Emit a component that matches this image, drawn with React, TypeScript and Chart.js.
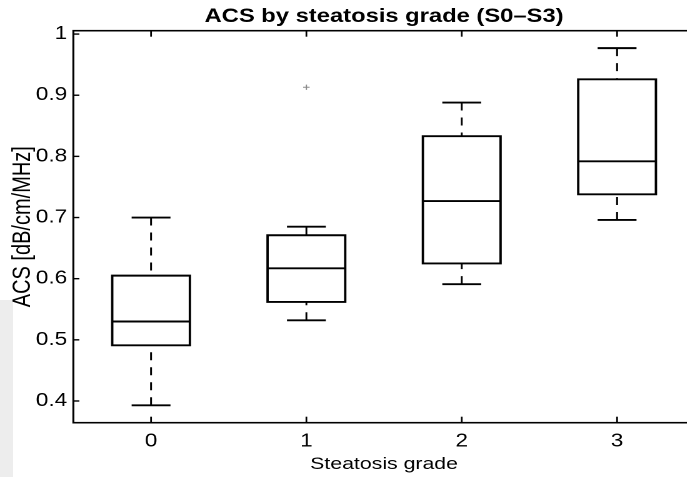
import { useEffect, useRef } from "react";
import { Chart, registerables } from "chart.js";

Chart.register(...registerables);

// ---- data ----
const grades = ["0", "1", "2", "3"];
const whiskerLow = [0.393, 0.532, 0.591, 0.696];
const quartile1 = [0.491, 0.562, 0.625, 0.738];
const medians = [0.53, 0.617, 0.727, 0.792];
const quartile3 = [0.605, 0.671, 0.833, 0.926];
const whiskerHigh = [0.7, 0.685, 0.888, 0.977];
const outliers = [null, 0.913, null, null];
const yTicks = [0.4, 0.5, 0.6, 0.7, 0.8, 0.9, 1.0];
const yMin = 0.3645;
const yMax = 1.0055;

const titleText = "ACS by steatosis grade (S0–S3)";
const xTitle = "Steatosis grade";
const yTitle = "ACS [dB/cm/MHz]";

// ---- layout ----
const S = 1.25; // horizontal stretch of the reference image
const W = 570;
const H = 477;
const FAMILY = "'Liberation Sans', Arial, Helvetica, sans-serif";

const boxPlugin = {
  id: "boxExtras",
  afterDatasetsDraw(chart: any) {
    const { ctx } = chart;
    const y = chart.scales.y;
    const meta = chart.getDatasetMeta(0);
    ctx.save();
    ctx.strokeStyle = "#000";
    ctx.lineCap = "butt";
    const line = (x1: number, y1: number, x2: number, y2: number) => {
      ctx.beginPath();
      ctx.moveTo(x1, y1);
      ctx.lineTo(x2, y2);
      ctx.stroke();
    };
    meta.data.forEach((bar: any, i: number) => {
      const cx = bar.x;
      const half = bar.width / 2;
      const capHalf = bar.width / 4;
      const yq1 = y.getPixelForValue(quartile1[i]);
      const yq3 = y.getPixelForValue(quartile3[i]);
      const ymed = y.getPixelForValue(medians[i]);
      const ylo = y.getPixelForValue(whiskerLow[i]);
      const yhi = y.getPixelForValue(whiskerHigh[i]);
      // whiskers (dashed)
      ctx.lineWidth = 1.5;
      ctx.setLineDash([8, 7]);
      line(cx, yhi, cx, yq3);
      line(cx, ylo, cx, yq1);
      ctx.setLineDash([]);
      // caps
      ctx.lineWidth = 1.9;
      line(cx - capHalf, yhi, cx + capHalf, yhi);
      line(cx - capHalf, ylo, cx + capHalf, ylo);
      // box
      ctx.lineWidth = 1.9;
      ctx.beginPath();
      ctx.rect(cx - half, yq3, bar.width, yq1 - yq3);
      ctx.stroke();
      // median
      line(cx - half, ymed, cx + half, ymed);
    });
    ctx.restore();
  },
  afterDraw(chart: any) {
    const { ctx, chartArea } = chart;
    const { left, right, top, bottom } = chartArea;
    const x = chart.scales.x;
    const y = chart.scales.y;
    ctx.save();
    ctx.strokeStyle = "#000";
    ctx.lineWidth = 1.6;
    ctx.strokeRect(left, top, right - left, bottom - top);
    ctx.lineWidth = 1.4;
    const tl = 6;
    const line = (x1: number, y1: number, x2: number, y2: number) => {
      ctx.beginPath();
      ctx.moveTo(x1, y1);
      ctx.lineTo(x2, y2);
      ctx.stroke();
    };
    yTicks.forEach((v) => {
      const py = y.getPixelForValue(v);
      line(left, py, left + tl / S, py);
      line(right, py, right - tl / S, py);
    });
    grades.forEach((_, i) => {
      const px = x.getPixelForValue(i);
      line(px, bottom, px, bottom - tl);
      line(px, top, px, top + tl);
    });
    ctx.restore();
  },
};

export default function App() {
  const ref = useRef<HTMLCanvasElement>(null);
  useEffect(() => {
    document.body.style.margin = "0";
    document.body.style.overflow = "hidden";
    const chart = new Chart(ref.current as HTMLCanvasElement, {
      type: "bar",
      data: {
        labels: grades,
        datasets: [
          {
            type: "bar",
            data: grades.map((_, i) => [quartile1[i], quartile3[i]]) as any,
            backgroundColor: "rgba(255,255,255,0)",
            borderWidth: 0,
            barPercentage: 0.5,
            categoryPercentage: 1,
            order: 2,
          },
          {
            type: "line",
            data: outliers as any,
            showLine: false,
            pointStyle: "cross",
            pointRadius: 2.6,
            borderColor: "#8a8a8a",
            backgroundColor: "#8a8a8a",
            borderWidth: 1,
            order: 1,
          } as any,
        ],
      },
      options: {
        responsive: false,
        animation: false,
        devicePixelRatio: 2,
        layout: { padding: { left: 0, right: W - 555.8, top: 0, bottom: 0 } },
        plugins: {
          legend: { display: false },
          tooltip: { enabled: false },
          title: {
            display: true,
            text: titleText,
            fullSize: false,
            color: "#000",
            font: { family: FAMILY, size: 19, weight: "bold" },
            padding: { top: 5.3, bottom: 2.6 },
          },
        },
        scales: {
          x: {
            type: "category",
            offset: true,
            grid: { display: false, drawTicks: false },
            border: { display: false },
            ticks: { color: "#000", font: { family: FAMILY, size: 18 }, padding: 8 },
            title: {
              display: true,
              text: xTitle,
              color: "#000",
              font: { family: FAMILY, size: 17 },
              padding: { top: 0, bottom: 2.4 },
            },
            afterFit(s: any) {
              s.height = H - 422.7;
            },
          },
          y: {
            type: "linear",
            min: yMin,
            max: yMax,
            afterBuildTicks(s: any) {
              s.ticks = yTicks.map((v) => ({ value: v }));
            },
            grid: { display: false, drawTicks: false },
            border: { display: false },
            ticks: {
              color: "#000",
              font: { family: FAMILY, size: 18 },
              padding: 5,
              callback: (v: any) => String(Number(Number(v).toFixed(1))),
            },
            title: {
              display: true,
              text: yTitle,
              color: "#000",
              font: { family: FAMILY, size: 20 },
              padding: { top: 6.7, bottom: 0 },
            },
            afterFit(s: any) {
              s.width = 58.7;
            },
          },
        },
      },
      plugins: [boxPlugin],
    } as any);
    return () => {
      chart.destroy();
    };
  }, []);
  return (
    <div
      style={{
        position: "fixed",
        left: 0,
        top: 0,
        width: 687,
        height: H,
        overflow: "hidden",
        background: "#fff",
      }}
    >
      <div
        style={{
          position: "absolute",
          left: 0,
          top: 300,
          width: 13,
          height: H - 300,
          background: "#ededed",
        }}
      />
      <div
        style={{
          position: "absolute",
          left: 0,
          top: 0,
          width: W,
          height: H,
          transform: `scaleX(${S})`,
          transformOrigin: "0 0",
        }}
      >
        <canvas ref={ref} width={W} height={H} style={{ display: "block" }} />
      </div>
    </div>
  );
}
